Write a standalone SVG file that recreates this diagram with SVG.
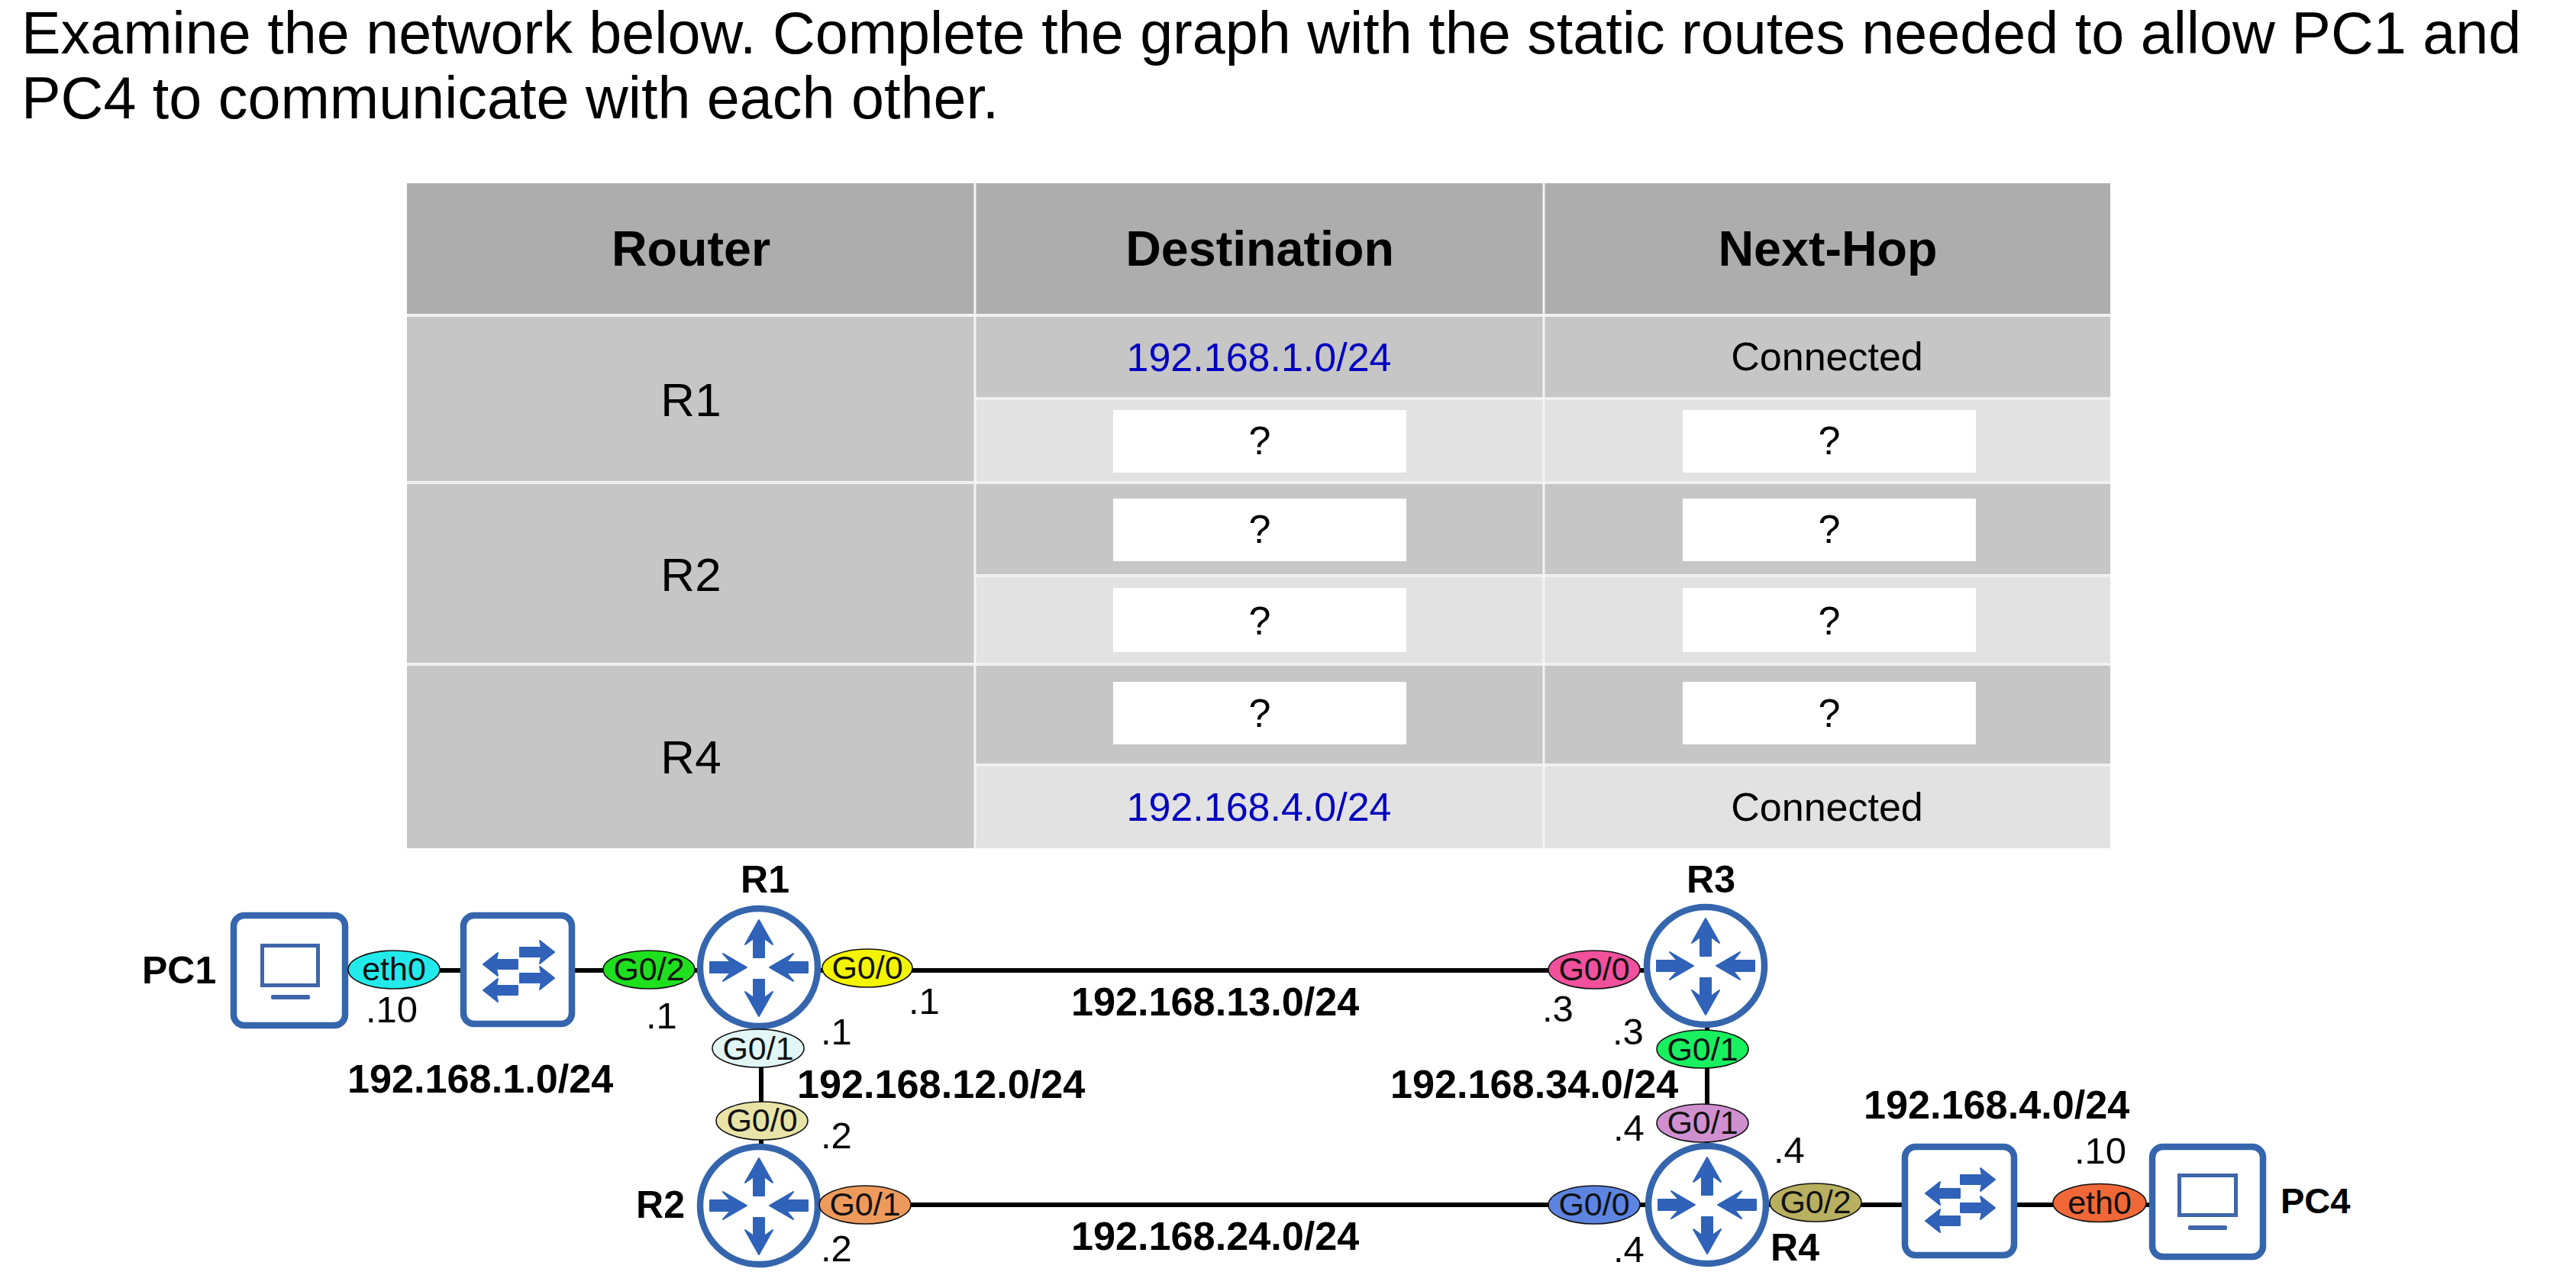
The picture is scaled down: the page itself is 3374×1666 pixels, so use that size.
<svg xmlns="http://www.w3.org/2000/svg" width="3374" height="1666" viewBox="0 0 3374 1666">
<style>
text{font-family:"Liberation Sans",Arial,sans-serif;fill:#000}
.title{font-size:77.300px}
.th{font-size:64.600px;font-weight:700;text-anchor:middle}
.tr{font-size:62px;text-anchor:middle}
.td{font-size:52px;text-anchor:middle}
.net{fill:#0000c0}
.hd{fill:#adadad}.dk{fill:#c6c6c6}.lt{fill:#e2e2e2}.wb{fill:#fff}
.sep{stroke:#f0f0f0;stroke-width:4;fill:none}
.sepv{stroke:#f4f4f4;stroke-width:3;fill:none}
.link{stroke:#000;stroke-width:6;fill:none}
.box{fill:#fff;stroke:#3565ad;stroke-width:8.500}
.scr{fill:#fff;stroke:#3f66aa;stroke-width:5}
.bar{fill:#3f66aa}
.rt{fill:#fff;stroke:#3565ad;stroke-width:8.500}
.ar{fill:#2f62b8;stroke:#2f62b8;stroke-width:2;stroke-linejoin:round}
.port{stroke:#111;stroke-width:1.600}
.pt{font-size:43px;text-anchor:middle;fill:#111}
.ip{font-size:49px}
.nm{font-size:52.200px;font-weight:700}
.lb{font-size:50px;font-weight:700}
.lb2{font-size:47px;font-weight:700}
</style>
<defs>
<g id="router-arrows">
<polygon class="ar" points="0,-62 18,-30 7,-38 7,-13 -7,-13 -7,-38 -18,-30"/>
<polygon class="ar" points="0,64 18,32 7,40 7,16 -7,16 -7,40 -18,32"/>
<polygon class="ar" points="-16,0 -47,-18 -37,-7 -64,-7 -64,7 -37,7 -47,18"/>
<polygon class="ar" points="14,0 45,-18 36,-7 64,-7 64,7 36,7 45,18"/>
</g>
<polygon id="sw-right" class="ar" points="46,0 27,-15 29,-6 1,-6 1,6 29,6 27,15"/>
<polygon id="sw-left" class="ar" points="0,0 19,-15 17,-6 45,-6 45,6 17,6 19,15"/>
</defs>
<rect width="3374" height="1666" fill="#fff"/>
<text class="title" x="28" y="70">Examine the network below. Complete the graph with the static routes needed to allow PC1 and</text>
<text class="title" x="28" y="155">PC4 to communicate with each other.</text>
<g id="table">
<rect class="hd" x="533" y="240" width="2231" height="172"/>
<rect class="dk" x="533" y="412" width="744" height="699"/>
<rect class="dk" x="1277" y="412" width="1487" height="110"/>
<rect class="lt" x="1277" y="522" width="1487" height="109"/>
<rect class="dk" x="1277" y="631" width="1487" height="123"/>
<rect class="lt" x="1277" y="754" width="1487" height="116"/>
<rect class="dk" x="1277" y="870" width="1487" height="132"/>
<rect class="lt" x="1277" y="1002" width="1487" height="109"/>
<path class="sep" d="M533 413H2764M1277 522H2764M533 632H2764M1277 754H2764M533 870H2764M1277 1002H2764"/>
<path class="sepv" d="M1277 240V1111M2022 240V1111"/>
<rect class="wb" x="1458" y="537" width="384" height="82"/>
<rect class="wb" x="2204" y="537" width="384" height="82"/>
<rect class="wb" x="1458" y="653" width="384" height="82"/>
<rect class="wb" x="2204" y="653" width="384" height="82"/>
<rect class="wb" x="1458" y="770" width="384" height="84"/>
<rect class="wb" x="2204" y="770" width="384" height="84"/>
<rect class="wb" x="1458" y="893" width="384" height="82"/>
<rect class="wb" x="2204" y="893" width="384" height="82"/>
<text class="th" x="905" y="348">Router</text>
<text class="th" x="1650" y="348">Destination</text>
<text class="th" x="2394" y="348">Next-Hop</text>
<text class="tr" x="905" y="545">R1</text>
<text class="tr" x="905" y="774">R2</text>
<text class="tr" x="905" y="1013">R4</text>
<text class="td net" x="1649" y="486">192.168.1.0/24</text>
<text class="td" x="2393" y="485">Connected</text>
<text class="td" x="1650" y="595">?</text>
<text class="td" x="2396" y="595">?</text>
<text class="td" x="1650" y="711">?</text>
<text class="td" x="2396" y="711">?</text>
<text class="td" x="1650" y="831">?</text>
<text class="td" x="2396" y="831">?</text>
<text class="td" x="1650" y="952">?</text>
<text class="td" x="2396" y="952">?</text>
<text class="td net" x="1649" y="1075">192.168.4.0/24</text>
<text class="td" x="2393" y="1075">Connected</text>
</g>
<g id="connectors">
<path class="link" d="M456 1271H603"/>
<path class="link" d="M753 1271H915"/>
<path class="link" d="M1073 1271H2154"/>
<path class="link" d="M997 1345V1500"/>
<path class="link" d="M2236 1345V1500"/>
<path class="link" d="M1073 1578H2156"/>
<path class="link" d="M2316 1578H2491"/>
<path class="link" d="M2642 1578H2815"/>
</g>
<g id="PC1">
<rect class="box" x="306" y="1199" width="146" height="144" rx="14"/>
<rect class="scr" x="343.500" y="1238.500" width="73" height="52"/>
<rect class="bar" x="355" y="1303" width="51" height="6" rx="2"/>
<text class="lb" x="186" y="1288">PC1</text>
</g>
<g id="SW1">
<rect class="box" x="607" y="1199" width="142" height="142" rx="14"/>
<use href="#sw-right" x="680" y="1247"/>
<use href="#sw-right" x="680" y="1281"/>
<use href="#sw-left" x="633" y="1263"/>
<use href="#sw-left" x="633" y="1297"/>
</g>
<g id="R1">
<circle class="rt" cx="994" cy="1267" r="77"/>
<use href="#router-arrows" x="994" y="1267"/>
<text class="lb" x="1002" y="1169" text-anchor="middle">R1</text>
</g>
<g id="R2">
<circle class="rt" cx="994" cy="1579" r="77"/>
<use href="#router-arrows" x="994" y="1579"/>
<text class="lb" x="865" y="1595" text-anchor="middle">R2</text>
</g>
<g id="R3">
<circle class="rt" cx="2234" cy="1265" r="77"/>
<use href="#router-arrows" x="2234" y="1265"/>
<text class="lb" x="2241" y="1169" text-anchor="middle">R3</text>
</g>
<g id="R4">
<circle class="rt" cx="2236" cy="1578" r="77"/>
<use href="#router-arrows" x="2236" y="1578"/>
<text class="lb" x="2351" y="1651" text-anchor="middle">R4</text>
</g>
<g id="SW2">
<rect class="box" x="2495" y="1502" width="143" height="142" rx="14"/>
<use href="#sw-right" x="2567" y="1545"/>
<use href="#sw-right" x="2567" y="1582"/>
<use href="#sw-left" x="2522" y="1563"/>
<use href="#sw-left" x="2522" y="1599"/>
</g>
<g id="PC4">
<rect class="box" x="2819" y="1502" width="145" height="144" rx="14"/>
<rect class="scr" x="2854.500" y="1539.500" width="74" height="52"/>
<rect class="bar" x="2866" y="1605" width="51" height="6" rx="2"/>
<text class="lb2" x="2987" y="1589">PC4</text>
</g>
<g id="ports">
<ellipse class="port" cx="516" cy="1270" rx="60" ry="25" fill="#22eaea"/><text class="pt" x="516" y="1284">eth0</text>
<ellipse class="port" cx="850" cy="1270" rx="60" ry="25" fill="#1ee01e"/><text class="pt" x="850" y="1284">G0/2</text>
<ellipse class="port" cx="1136" cy="1268" rx="59" ry="25" fill="#f4f400"/><text class="pt" x="1136" y="1282">G0/0</text>
<ellipse class="port" cx="993" cy="1373" rx="60" ry="25" fill="#e2f6f6"/><text class="pt" x="993" y="1388">G0/1</text>
<ellipse class="port" cx="998" cy="1468" rx="60" ry="25" fill="#e8e4a8"/><text class="pt" x="998" y="1482">G0/0</text>
<ellipse class="port" cx="1133" cy="1578" rx="60" ry="25" fill="#ee9a5c"/><text class="pt" x="1133" y="1592">G0/1</text>
<ellipse class="port" cx="2088" cy="1270" rx="60" ry="25" fill="#f0509c"/><text class="pt" x="2088" y="1284">G0/0</text>
<ellipse class="port" cx="2230" cy="1374" rx="60" ry="25" fill="#18f060"/><text class="pt" x="2230" y="1389">G0/1</text>
<ellipse class="port" cx="2230" cy="1471" rx="60" ry="25" fill="#d090d0"/><text class="pt" x="2230" y="1485">G0/1</text>
<ellipse class="port" cx="2088" cy="1578" rx="60" ry="25" fill="#5c84e0"/><text class="pt" x="2088" y="1592">G0/0</text>
<ellipse class="port" cx="2378" cy="1575" rx="60" ry="25" fill="#b8b060"/><text class="pt" x="2378" y="1589">G0/2</text>
<ellipse class="port" cx="2750" cy="1575.500" rx="61" ry="25" fill="#f06838"/><text class="pt" x="2750" y="1590">eth0</text>
</g>
<g id="labels">
<text class="ip" x="479" y="1339">.10</text>
<text class="ip" x="846" y="1347">.1</text>
<text class="ip" x="1190" y="1328">.1</text>
<text class="ip" x="1075" y="1368">.1</text>
<text class="ip" x="1075" y="1504">.2</text>
<text class="ip" x="1075" y="1652">.2</text>
<text class="ip" x="2020" y="1338">.3</text>
<text class="ip" x="2112" y="1368">.3</text>
<text class="ip" x="2113" y="1494">.4</text>
<text class="ip" x="2323" y="1523">.4</text>
<text class="ip" x="2113" y="1653">.4</text>
<text class="ip" x="2717" y="1524">.10</text>
<text class="nm" x="455" y="1431">192.168.1.0/24</text>
<text class="nm" x="1044" y="1438">192.168.12.0/24</text>
<text class="nm" x="1403" y="1330">192.168.13.0/24</text>
<text class="nm" x="1403" y="1637">192.168.24.0/24</text>
<text class="nm" x="1821" y="1438">192.168.34.0/24</text>
<text class="nm" x="2441" y="1465">192.168.4.0/24</text>
</g>
</svg>
